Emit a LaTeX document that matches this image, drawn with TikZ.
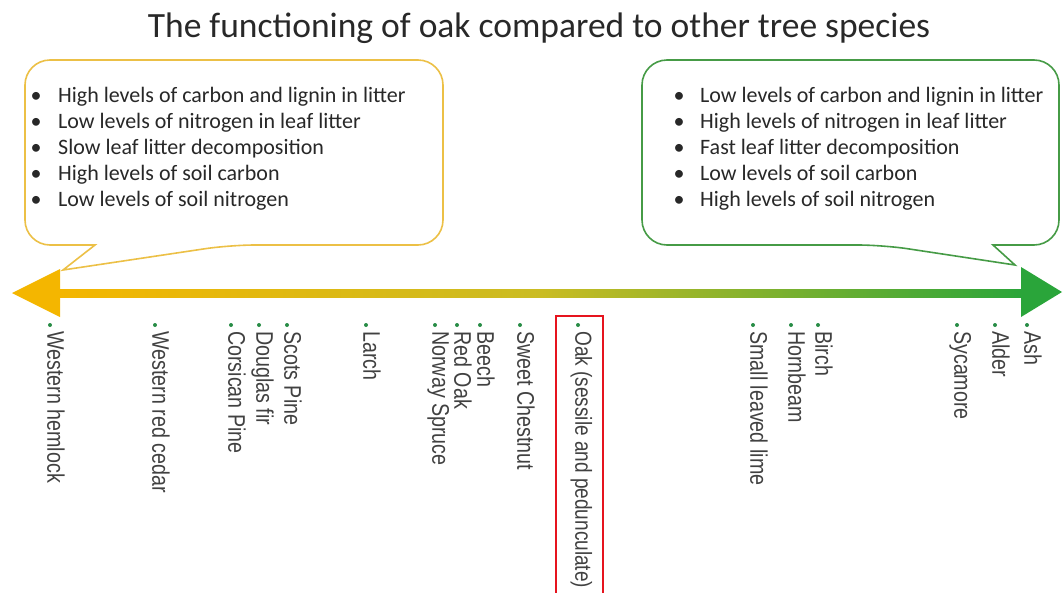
\documentclass[tikz,border=0pt]{standalone}
\usepackage{fontspec}
\setmainfont{Carlito}
\newfontfamily\narrowfont{Liberation Sans}[FakeStretch=0.82]
\definecolor{txtgray}{RGB}{40,40,40}
\definecolor{sptxt}{RGB}{65,65,65}
\definecolor{dotgreen}{RGB}{40,140,70}
\definecolor{lbox}{RGB}{236,192,70}
\definecolor{rbox}{RGB}{70,155,70}
\definecolor{arrL}{RGB}{244,182,0}
\definecolor{arrM}{RGB}{202,188,35}
\definecolor{arrR}{RGB}{42,165,58}
\definecolor{oakred}{RGB}{230,20,30}
\begin{document}
\begin{tikzpicture}[x=1pt,y=-1pt,
  titlestyle/.style={anchor=base, font=\fontsize{35.5}{40}\selectfont, text=txtgray, inner sep=0},
  tline/.style={anchor=base west, font=\fontsize{22}{26}\selectfont, text=txtgray, inner sep=0},
  bul/.style={anchor=base, font=\fontsize{22}{26}\selectfont, text=txtgray, inner sep=0},
  calloutL/.style={draw=lbox, line width=1.6pt, fill=white},
  calloutR/.style={draw=rbox, line width=1.6pt, fill=white},
  species/.style={rotate=-90, anchor=west, font=\narrowfont\fontsize{24}{25}\selectfont,
    text=sptxt, inner sep=0, text height=0.72em, text depth=0.2em},
  spdot/.style={circle, fill=dotgreen, inner sep=0, minimum size=4pt}]
\useasboundingbox (0,0) rectangle (1063,592);

% title
\node[titlestyle] (title) at (539,37) {The functioning of oak compared to other tree species};

% left callout
\draw[calloutL] (95,245) [rounded corners=25pt] -- (25,245) -- (25,60) -- (443,60) -- (443,245) -- (230,245) [sharp corners] -- (63,270) -- cycle;
% right callout
\draw[calloutR] (883,245) -- (1015,265) -- (993,245) [rounded corners=25pt] -- (1059,245) -- (1059,60) -- (642,60) -- (642,245) -- cycle;

% left texts
\foreach \t [count=\i from 0] in {High levels of carbon and lignin in litter,
  Low levels of nitrogen in leaf litter,
  Slow leaf litter decomposition,
  High levels of soil carbon,
  Low levels of soil nitrogen}{
  \node[bul] (lb\i) at (36,102+26.2*\i) {\textbullet};
  \node[tline] (lt\i) at (58,102+26.2*\i) {\t};
}
% right texts
\foreach \t [count=\i from 0] in {Low levels of carbon and lignin in litter,
  High levels of nitrogen in leaf litter,
  Fast leaf litter decomposition,
  Low levels of soil carbon,
  High levels of soil nitrogen}{
  \node[bul] (rb\i) at (679,102+26.2*\i) {\textbullet};
  \node[tline] (rt\i) at (700,102+26.2*\i) {\t};
}

% arrow
\coordinate (aL) at (12,293);
\coordinate (aR) at (1062,292);
\shade[left color=arrL, right color=arrR, middle color=arrM] (58,289) rectangle (1024,297);
\fill[arrL] (aL) -- (60,269) -- (60,317) -- cycle;
\fill[arrR] (aR) -- (1021,267) -- (1021,317) -- cycle;

% species
\foreach \x/\name/\lab in {50/hemlock/Western hemlock,
  155/cedar/Western red cedar,
  231/corsican/Corsican Pine,
  259/douglas/Douglas fir,
  287/scots/Scots Pine,
  366/larch/Larch,
  435/spruce/Norway Spruce,
  457/redoak/Red Oak,
  480/beech/Beech,
  520/chestnut/Sweet Chestnut,
  753/lime/Small leaved lime,
  791/hornbeam/Hornbeam,
  818/birch/Birch,
  957/sycamore/Sycamore,
  995/alder/Alder,
  1027/ash/Ash}{
  \node[spdot] (d-\name) at (\x,325) {};
  \node[species] (s-\name) at (\x,331) {\lab};
}
\node[spdot] (d-oak) at (578,325) {};
\node[species, font=\narrowfont\fontsize{23.2}{24}\selectfont] (s-oak) at (578,331) {Oak (sessile and pedunculate)};

% red highlight around oak
\draw[oakred, line width=1.8pt] (556,600) -- (556,316) -- (603,316) -- (603,600);
\end{tikzpicture}
\end{document}
